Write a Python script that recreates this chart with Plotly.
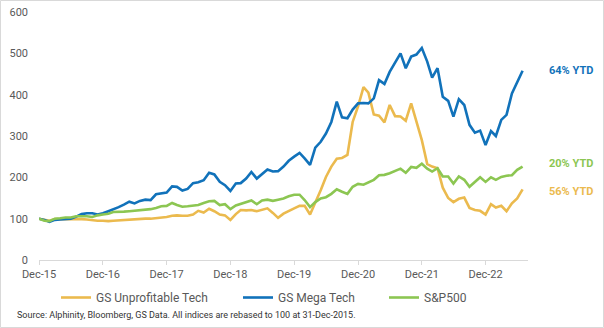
import calendar
import plotly.graph_objects as go

# Month-end dates from Dec-2015 to Jul-2023
dates = []
y, m = 2015, 12
for _ in range(92):
    d = calendar.monthrange(y, m)[1]
    dates.append(f"{y:04d}-{m:02d}-{d:02d}")
    m += 1
    if m > 12:
        m = 1
        y += 1

unprofitable_tech = [
    100, 97, 95, 99, 99, 99, 99, 100, 99, 98, 96, 95,
    95, 94, 95, 96, 96, 97, 98, 99, 100, 100, 101, 102,
    104, 107, 108, 107, 107, 110, 119, 115, 124, 118, 110, 108,
    97, 111, 121, 120, 121, 118, 121, 125, 114, 102, 112, 119,
    125, 131, 131, 110, 137, 169, 201, 226, 245, 247, 254, 334,
    372, 418, 405, 352, 349, 333, 375, 348, 347, 337, 379, 334,
    290, 232, 226, 222, 175, 150, 140, 148, 151, 126, 121, 119,
    110, 135, 127, 131, 118, 137, 149, 171,
]
mega_tech = [
    100, 97, 92, 97, 98, 99, 100, 105, 111, 113, 113, 110,
    113, 118, 122, 128, 134, 141, 137, 143, 146, 145, 159, 161,
    163, 178, 177, 168, 172, 186, 188, 193, 211, 207, 189, 181,
    167, 185, 186, 197, 213, 197, 207, 219, 214, 215, 226, 240,
    250, 259, 246, 230, 272, 286, 306, 334, 383, 345, 343, 364,
    379, 380, 379, 391, 435, 426, 455, 476, 500, 464, 492, 497,
    513, 480, 441, 464, 395, 385, 347, 389, 375, 327, 308, 313,
    278, 312, 300, 339, 351, 403, 431, 458,
]
sp500 = [
    100, 95, 94, 100, 101, 103, 103, 106, 106, 106, 104, 108,
    110, 112, 116, 116, 117, 118, 119, 121, 121, 123, 126, 130,
    131, 138, 133, 129, 130, 132, 133, 138, 142, 143, 133, 135,
    123, 132, 136, 139, 144, 135, 144, 146, 143, 146, 149, 154,
    158, 158, 145, 128, 140, 149, 152, 160, 171, 165, 160, 177,
    184, 182, 187, 194, 205, 206, 210, 215, 221, 211, 225, 223,
    233, 221, 214, 222, 202, 202, 185, 202, 194, 177, 189, 200,
    189, 200, 194, 201, 204, 205, 218, 226,
]

series_names = ["GS Unprofitable Tech", "GS Mega Tech", "S&P500"]
ytd_labels = ["56% YTD", "64% YTD", "20% YTD"]
tick_dates = ["2015-12-31", "2016-12-31", "2017-12-31", "2018-12-31",
              "2019-12-31", "2020-12-31", "2021-12-31", "2022-12-31"]
tick_labels = ["Dec-15", "Dec-16", "Dec-17", "Dec-18",
               "Dec-19", "Dec-20", "Dec-21", "Dec-22"]
y_ticks = [0, 100, 200, 300, 400, 500, 600]

colors = ["#EBBA4E", "#1172BA", "#8CC652"]
W, H = 604, 328
L, R, T, B = 39, 76, 12, 68
pw, ph = W - L - R, H - T - B

def px(x):
    return (x - L) / pw

def py(y):
    return (H - B - y) / ph

fig = go.Figure()
all_series = [unprofitable_tech, mega_tech, sp500]
legends = ["legend", "legend2", "legend3"]
for name, vals, col, lg in zip(series_names, all_series, colors, legends):
    fig.add_trace(go.Scatter(x=dates, y=vals, mode="lines", name=name,
                             line=dict(color=col, width=2.6), legend=lg,
                             showlegend=True))

leg_font = dict(family="Roboto", size=12, color="#595959")
leg_common = dict(orientation="h", font=leg_font, bgcolor="rgba(0,0,0,0)",
                  borderwidth=0, yanchor="middle", xanchor="left",
                  itemwidth=30, tracegroupgap=0, visible=True)
text_starts = [98, 280, 426]
fig.update_layout(
    showlegend=True,
    legend=dict(x=px(text_starts[0] - 42), y=py(297.5), **leg_common),
    legend2=dict(x=px(text_starts[1] - 42), y=py(297.5), **leg_common),
    legend3=dict(x=px(text_starts[2] - 42), y=py(297.5), **leg_common),
)

ann_y = [191.7, 70, 163.3]
for lab, col, yy in zip(ytd_labels, colors, ann_y):
    fig.add_annotation(x=px(547), y=py(yy), xref="paper", yref="paper",
                       text=f"<b>{lab}</b>", showarrow=False, xanchor="left",
                       yanchor="middle",
                       font=dict(family="Roboto", size=11, color=col))

fig.add_annotation(x=px(15), y=py(315), xref="paper", yref="paper",
                   text="Source: Alphinity, Bloomberg, GS Data. All indices are rebased to 100 at 31-Dec-2015.",
                   showarrow=False, xanchor="left", yanchor="middle",
                   font=dict(family="Roboto", size=9, color="#333333"))

fig.add_shape(type="rect", xref="paper", yref="paper",
              x0=px(0.5), x1=px(W - 0.5), y0=py(H - 0.5), y1=py(0.5),
              line=dict(color="#D9D9D9", width=1), fillcolor="rgba(0,0,0,0)")

fig.update_layout(
    width=W, height=H, margin=dict(l=L, r=R, t=T, b=B, autoexpand=False),
    paper_bgcolor="white", plot_bgcolor="white",
    font=dict(family="Roboto", size=11, color="#595959"),
    xaxis=dict(type="date", range=["2015-12-31", "2023-08-31"],
               tickvals=tick_dates, ticktext=tick_labels,
               showgrid=False, zeroline=False, showline=True,
               linecolor="#D9D9D9", linewidth=1, ticks="outside",
               ticklen=4, tickcolor="#D9D9D9",
               tickfont=dict(family="Roboto", size=11, color="#595959")),
    yaxis=dict(range=[0, 600], tickvals=y_ticks, showgrid=False,
               zeroline=False, showline=False, ticks="",
               ticklabelstandoff=10,
               tickfont=dict(family="Roboto", size=11, color="#595959")),
)

fig.write_html("out.html")
